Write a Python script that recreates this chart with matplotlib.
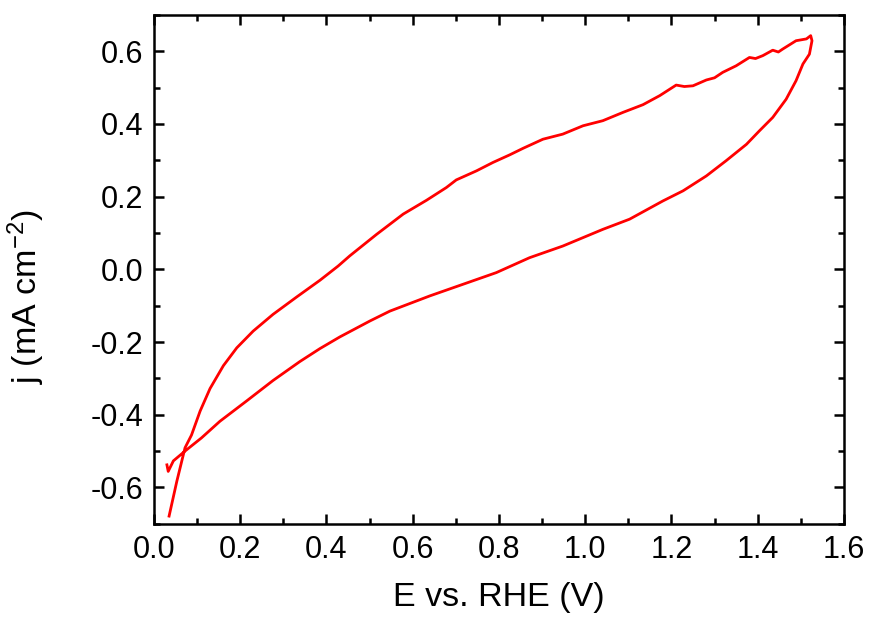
import numpy as np
import matplotlib
matplotlib.use('Agg')
import matplotlib.pyplot as plt
from matplotlib.ticker import MultipleLocator, FormatStrFormatter

plt.rcParams['font.family'] = ['Liberation Sans', 'DejaVu Sans']
plt.rcParams['mathtext.default'] = 'regular'
plt.rcParams['axes.unicode_minus'] = False

# forward (anodic) scan
E_fwd = [0.035, 0.053, 0.072, 0.087, 0.107, 0.130, 0.161, 0.192, 0.230, 0.276,
         0.331, 0.385, 0.427, 0.454, 0.516, 0.578, 0.632, 0.678, 0.701, 0.748,
         0.786, 0.825, 0.856, 0.902, 0.948, 0.995, 1.041, 1.088, 1.134, 1.173,
         1.211, 1.230, 1.250, 1.281, 1.300, 1.319, 1.350, 1.381, 1.395, 1.412,
         1.435, 1.448, 1.458, 1.489, 1.513, 1.523]
j_fwd = [-0.679, -0.583, -0.491, -0.456, -0.390, -0.328, -0.265, -0.216, -0.170, -0.124,
         -0.076, -0.030, 0.009, 0.037, 0.096, 0.152, 0.190, 0.225, 0.246, 0.271,
         0.294, 0.315, 0.333, 0.358, 0.372, 0.395, 0.409, 0.432, 0.453, 0.478,
         0.507, 0.503, 0.505, 0.521, 0.527, 0.542, 0.560, 0.583, 0.580, 0.588,
         0.603, 0.598, 0.606, 0.629, 0.634, 0.643]

# reverse (cathodic) scan
E_rev = [1.526, 1.520, 1.505, 1.489, 1.466, 1.435, 1.404, 1.374, 1.327, 1.281,
         1.227, 1.180, 1.103, 1.041, 0.948, 0.871, 0.794, 0.717, 0.640, 0.609,
         0.547, 0.501, 0.431, 0.385, 0.338, 0.276, 0.215, 0.153, 0.110, 0.072,
         0.045, 0.033, 0.030]
j_rev = [0.629, 0.592, 0.565, 0.519, 0.468, 0.418, 0.381, 0.344, 0.299, 0.257,
         0.216, 0.188, 0.138, 0.110, 0.064, 0.032, -0.009, -0.041, -0.073, -0.087,
         -0.115, -0.142, -0.186, -0.218, -0.254, -0.306, -0.362, -0.418, -0.464, -0.500,
         -0.527, -0.556, -0.538]

E = E_fwd + E_rev
j = j_fwd + j_rev

fig = plt.figure(figsize=(8.7, 6.22), dpi=100)
ax = fig.add_axes([0.177, 0.158, 0.793, 0.818])

ax.plot(E, j, color='#ff0000', lw=2.0)

ax.set_xlim(0, 1.6)
ax.set_ylim(-0.7, 0.7)
ax.xaxis.set_major_locator(MultipleLocator(0.2))
ax.xaxis.set_minor_locator(MultipleLocator(0.1))
ax.yaxis.set_major_locator(MultipleLocator(0.2))
ax.yaxis.set_minor_locator(MultipleLocator(0.1))
ax.xaxis.set_major_formatter(FormatStrFormatter('%.1f'))
ax.yaxis.set_major_formatter(FormatStrFormatter('%.1f'))

for s in ax.spines.values():
    s.set_linewidth(1.8)
ax.tick_params(which='both', direction='in', top=True, right=True, width=1.8, labelsize=22)
ax.tick_params(which='major', length=7.5, pad=8)
ax.tick_params(which='minor', length=4.5)

ax.set_xlabel('E vs. RHE (V)', fontsize=24.5, labelpad=12)
ax.set_ylabel('j (mA cm$^{-2}$)', fontsize=24.5)
ax.yaxis.set_label_coords(-0.155, 0.446)

fig.savefig('out.png', dpi=100)
